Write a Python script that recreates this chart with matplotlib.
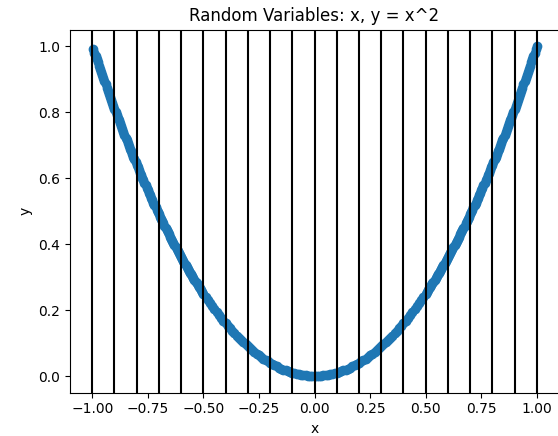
import matplotlib
matplotlib.use("Agg")
import matplotlib.pyplot as plt

# points along the curve (denser where the curve is steep)
x_left = [
    -0.995, -0.990, -0.985, -0.980, -0.975, -0.970, -0.965, -0.960, -0.955, -0.950,
    -0.945, -0.940, -0.935, -0.930, -0.925, -0.920, -0.915, -0.910, -0.905, -0.900,
    -0.895, -0.890, -0.885, -0.880, -0.875, -0.870, -0.865, -0.860, -0.855, -0.850,
    -0.845, -0.840, -0.835, -0.830, -0.825, -0.820, -0.815, -0.810, -0.805, -0.800,
    -0.795, -0.790, -0.785, -0.780, -0.775, -0.770, -0.765, -0.760, -0.755, -0.750,
    -0.745, -0.740, -0.735, -0.730, -0.725, -0.720, -0.715, -0.710, -0.705, -0.700,
    -0.695, -0.690, -0.685, -0.680, -0.675, -0.670, -0.665, -0.660, -0.655, -0.650,
    -0.645, -0.640, -0.635, -0.630, -0.625, -0.620, -0.615, -0.610, -0.605, -0.600,
    -0.595, -0.590, -0.585, -0.580, -0.575, -0.570, -0.565, -0.560, -0.555, -0.550,
    -0.545, -0.540, -0.535, -0.530, -0.525, -0.520, -0.515, -0.510, -0.505,
]
y_left = [
    0.9900, 0.9801, 0.9702, 0.9604, 0.9506, 0.9409, 0.9312, 0.9216, 0.9120, 0.9025,
    0.8930, 0.8836, 0.8742, 0.8649, 0.8556, 0.8464, 0.8372, 0.8281, 0.8190, 0.8100,
    0.8010, 0.7921, 0.7832, 0.7744, 0.7656, 0.7569, 0.7482, 0.7396, 0.7310, 0.7225,
    0.7140, 0.7056, 0.6972, 0.6889, 0.6806, 0.6724, 0.6642, 0.6561, 0.6480, 0.6400,
    0.6320, 0.6241, 0.6162, 0.6084, 0.6006, 0.5929, 0.5852, 0.5776, 0.5700, 0.5625,
    0.5550, 0.5476, 0.5402, 0.5329, 0.5256, 0.5184, 0.5112, 0.5041, 0.4970, 0.4900,
    0.4830, 0.4761, 0.4692, 0.4624, 0.4556, 0.4489, 0.4422, 0.4356, 0.4290, 0.4225,
    0.4160, 0.4096, 0.4032, 0.3969, 0.3906, 0.3844, 0.3782, 0.3721, 0.3660, 0.3600,
    0.3540, 0.3481, 0.3422, 0.3364, 0.3306, 0.3249, 0.3192, 0.3136, 0.3080, 0.3025,
    0.2970, 0.2916, 0.2862, 0.2809, 0.2756, 0.2704, 0.2652, 0.2601, 0.2550,
]
x_mid = [
    -0.50, -0.49, -0.48, -0.47, -0.46, -0.45, -0.44, -0.43, -0.42, -0.41,
    -0.40, -0.39, -0.38, -0.37, -0.36, -0.35, -0.34, -0.33, -0.32, -0.31,
    -0.30, -0.29, -0.28, -0.27, -0.26, -0.25, -0.24, -0.23, -0.22, -0.21,
    -0.20, -0.19, -0.18, -0.17, -0.16, -0.15, -0.14, -0.13, -0.12, -0.11,
    -0.10, -0.09, -0.08, -0.07, -0.06, -0.05, -0.04, -0.03, -0.02, -0.01,
    0.00, 0.01, 0.02, 0.03, 0.04, 0.05, 0.06, 0.07, 0.08, 0.09,
    0.10, 0.11, 0.12, 0.13, 0.14, 0.15, 0.16, 0.17, 0.18, 0.19,
    0.20, 0.21, 0.22, 0.23, 0.24, 0.25, 0.26, 0.27, 0.28, 0.29,
    0.30, 0.31, 0.32, 0.33, 0.34, 0.35, 0.36, 0.37, 0.38, 0.39,
    0.40, 0.41, 0.42, 0.43, 0.44, 0.45, 0.46, 0.47, 0.48, 0.49, 0.50,
]
y_mid = [
    0.2500, 0.2401, 0.2304, 0.2209, 0.2116, 0.2025, 0.1936, 0.1849, 0.1764, 0.1681,
    0.1600, 0.1521, 0.1444, 0.1369, 0.1296, 0.1225, 0.1156, 0.1089, 0.1024, 0.0961,
    0.0900, 0.0841, 0.0784, 0.0729, 0.0676, 0.0625, 0.0576, 0.0529, 0.0484, 0.0441,
    0.0400, 0.0361, 0.0324, 0.0289, 0.0256, 0.0225, 0.0196, 0.0169, 0.0144, 0.0121,
    0.0100, 0.0081, 0.0064, 0.0049, 0.0036, 0.0025, 0.0016, 0.0009, 0.0004, 0.0001,
    0.0000, 0.0001, 0.0004, 0.0009, 0.0016, 0.0025, 0.0036, 0.0049, 0.0064, 0.0081,
    0.0100, 0.0121, 0.0144, 0.0169, 0.0196, 0.0225, 0.0256, 0.0289, 0.0324, 0.0361,
    0.0400, 0.0441, 0.0484, 0.0529, 0.0576, 0.0625, 0.0676, 0.0729, 0.0784, 0.0841,
    0.0900, 0.0961, 0.1024, 0.1089, 0.1156, 0.1225, 0.1296, 0.1369, 0.1444, 0.1521,
    0.1600, 0.1681, 0.1764, 0.1849, 0.1936, 0.2025, 0.2116, 0.2209, 0.2304, 0.2401, 0.2500,
]
x_right = [
    0.505, 0.510, 0.515, 0.520, 0.525, 0.530, 0.535, 0.540, 0.545, 0.550,
    0.555, 0.560, 0.565, 0.570, 0.575, 0.580, 0.585, 0.590, 0.595, 0.600,
    0.605, 0.610, 0.615, 0.620, 0.625, 0.630, 0.635, 0.640, 0.645, 0.650,
    0.655, 0.660, 0.665, 0.670, 0.675, 0.680, 0.685, 0.690, 0.695, 0.700,
    0.705, 0.710, 0.715, 0.720, 0.725, 0.730, 0.735, 0.740, 0.745, 0.750,
    0.755, 0.760, 0.765, 0.770, 0.775, 0.780, 0.785, 0.790, 0.795, 0.800,
    0.805, 0.810, 0.815, 0.820, 0.825, 0.830, 0.835, 0.840, 0.845, 0.850,
    0.855, 0.860, 0.865, 0.870, 0.875, 0.880, 0.885, 0.890, 0.895, 0.900,
    0.905, 0.910, 0.915, 0.920, 0.925, 0.930, 0.935, 0.940, 0.945, 0.950,
    0.955, 0.960, 0.965, 0.970, 0.975, 0.980, 0.985, 0.990, 0.995, 1.000,
]
y_right = [
    0.2550, 0.2601, 0.2652, 0.2704, 0.2756, 0.2809, 0.2862, 0.2916, 0.2970, 0.3025,
    0.3080, 0.3136, 0.3192, 0.3249, 0.3306, 0.3364, 0.3422, 0.3481, 0.3540, 0.3600,
    0.3660, 0.3721, 0.3782, 0.3844, 0.3906, 0.3969, 0.4032, 0.4096, 0.4160, 0.4225,
    0.4290, 0.4356, 0.4422, 0.4489, 0.4556, 0.4624, 0.4692, 0.4761, 0.4830, 0.4900,
    0.4970, 0.5041, 0.5112, 0.5184, 0.5256, 0.5329, 0.5402, 0.5476, 0.5550, 0.5625,
    0.5700, 0.5776, 0.5852, 0.5929, 0.6006, 0.6084, 0.6162, 0.6241, 0.6320, 0.6400,
    0.6480, 0.6561, 0.6642, 0.6724, 0.6806, 0.6889, 0.6972, 0.7056, 0.7140, 0.7225,
    0.7310, 0.7396, 0.7482, 0.7569, 0.7656, 0.7744, 0.7832, 0.7921, 0.8010, 0.8100,
    0.8190, 0.8281, 0.8372, 0.8464, 0.8556, 0.8649, 0.8742, 0.8836, 0.8930, 0.9025,
    0.9120, 0.9216, 0.9312, 0.9409, 0.9506, 0.9604, 0.9702, 0.9801, 0.9900, 1.0000,
]

# bin edges drawn as vertical lines
edges = [-1.0, -0.9, -0.8, -0.7, -0.6, -0.5, -0.4, -0.3, -0.2, -0.1, 0.0,
         0.1, 0.2, 0.3, 0.4, 0.5, 0.6, 0.7, 0.8, 0.9, 1.0]

x_vals = x_left + x_mid + x_right
y_vals = y_left + y_mid + y_right

fig = plt.figure(figsize=(5.58, 4.36), dpi=100)
ax = fig.add_axes([70/558, 43.5/436, 489/558, 363/436])

ax.scatter(x_vals, y_vals)
for e in edges:
    ax.axvline(e, color='k')

ax.set_xlim(-1.1, 1.1)
ax.set_ylim(-0.05, 1.05)
ax.set_xlabel("x")
ax.set_ylabel("y")
ax.set_title("Random Variables: x, y = x^2")

fig.savefig("out.png", dpi=100)
